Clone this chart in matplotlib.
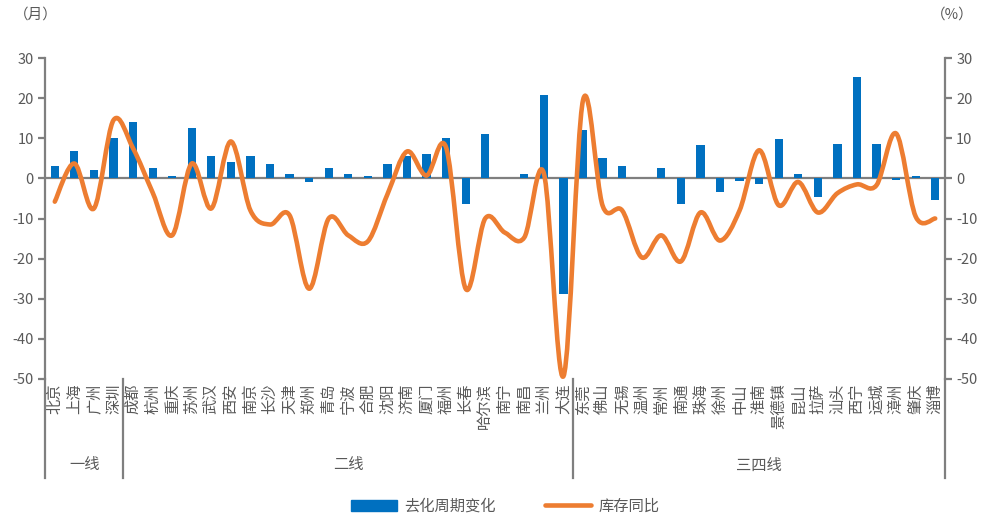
import matplotlib.pyplot as plt
import numpy as np
from matplotlib.path import Path
from matplotlib.patches import PathPatch, Patch
from matplotlib.lines import Line2D

plt.rcParams['font.family'] = ['Noto Sans CJK SC', 'DejaVu Sans']
plt.rcParams['axes.unicode_minus'] = False

# =============================================================================
# data
# =============================================================================
cities = ['北京', '上海', '广州', '深圳',
          '成都', '杭州', '重庆', '苏州', '武汉', '西安', '南京', '长沙', '天津',
          '郑州', '青岛', '宁波', '合肥', '沈阳', '济南', '厦门', '福州', '长春',
          '哈尔滨', '南宁', '南昌', '兰州', '大连',
          '东莞', '佛山', '无锡', '温州', '常州', '南通', '珠海', '徐州', '中山',
          '淮南', '景德镇', '昆山', '拉萨', '汕头', '西宁', '运城', '漳州', '肇庆',
          '淄博']

groups = ['一线', '二线', '三四线']
group_sizes = [4, 23, 19]

# 去化周期变化 (月)
cycle_change = [3.2, 6.7, 2.0, 10.0,
                14.0, 2.5, 0.5, 12.5, 5.7, 4.2, 5.7, 3.7, 1.2,
                -1.0, 2.5, 1.0, 0.7, 3.7, 5.7, 6.0, 10.0, -6.5,
                11.0, 0.0, 1.0, 20.7, -28.8,
                12.0, 5.2, 3.2, 0.0, 2.7, -6.3, 8.2, -3.5, -0.7,
                -1.5, 9.7, 1.2, -4.7, 8.5, 25.2, 8.5, -0.5, 0.5,
                -5.3]

# 库存同比 (%)
stock_yoy = [-5.8, 3.7, -7.5, 14.5,
             7.5, -3.5, -14.2, 3.7, -7.5, 9.2, -8.0, -11.5, -9.2,
             -27.5, -10.0, -14.2, -15.7, -4.0, 6.7, 0.7, 7.7, -27.5,
             -10.0, -13.5, -14.7, 1.2, -49.3,
             19.5, -6.8, -8.0, -19.7, -14.2, -20.7, -8.5, -15.5, -8.0,
             7.0, -6.7, -0.9, -8.5, -3.7, -1.5, -1.7, 11.2, -9.5,
             -10.0]

yticks = [30, 20, 10, 0, -10, -20, -30, -40, -50]

# =============================================================================
# figure
# =============================================================================
blue = '#0070C0'
orange = '#ED7D31'
grey = '#7F7F7F'
txt = '#595959'

W, H = 989, 530
fig = plt.figure(figsize=(W / 100, H / 100), dpi=100)
fig.set_facecolor('w')

x0, x1, ytop, ybot = 45, 945, 58, 379
ax = fig.add_axes([x0 / W, 1 - ybot / H, (x1 - x0) / W, (ybot - ytop) / H])
ax2 = ax.twinx()

n = len(cities)
x = np.arange(n)

ax.bar(x, cycle_change, width=0.42, color=blue, zorder=2)
ax.axhline(0, color=grey, lw=1.6, zorder=1)

# smooth line (Catmull-Rom -> cubic bezier, like office "smoothed line")
pts = np.column_stack([x, stock_yoy]).astype(float)
verts = [tuple(pts[0])]
codes = [Path.MOVETO]
for i in range(n - 1):
    p0 = pts[i - 1] if i > 0 else pts[i]
    p1 = pts[i]
    p2 = pts[i + 1]
    p3 = pts[i + 2] if i + 2 < n else pts[i + 1]
    c1 = p1 + (p2 - p0) / 6
    c2 = p2 - (p3 - p1) / 6
    verts += [tuple(c1), tuple(c2), tuple(p2)]
    codes += [Path.CURVE4] * 3
ax.add_patch(PathPatch(Path(verts, codes), fill=False, edgecolor=orange,
                       lw=3.3, capstyle='round', joinstyle='round', zorder=3))

for a in (ax, ax2):
    a.set_ylim(-50, 30)
    a.set_yticks(yticks)
    for s in a.spines.values():
        s.set_visible(False)
    a.tick_params(axis='y', colors=grey, labelcolor=txt, labelsize=10.5,
                  length=5, width=1.6, pad=3)
ax.set_xlim(-0.5, n - 0.5)

ax.spines['left'].set_visible(True)
ax.spines['left'].set_color(grey)
ax.spines['left'].set_linewidth(1.6)
ax2.spines['right'].set_visible(True)
ax2.spines['right'].set_color(grey)
ax2.spines['right'].set_linewidth(1.6)

ax.set_xticks(x)
ax.set_xticklabels(cities, rotation=90, fontsize=11, color=txt)
ax.tick_params(axis='x', length=0, pad=3)

# group separators and group labels below the category axis
bounds = np.concatenate([[0], np.cumsum(group_sizes)]) - 0.5
sep_bottom = -(478 - ybot) / (ybot - ytop)
for b in bounds:
    ax.plot([b, b], [0, sep_bottom], transform=ax.get_xaxis_transform(),
            color=grey, lw=1.6, clip_on=False)
grp_y = 1 - (465 - ytop) / (ybot - ytop)
for g, lo, hi in zip(groups, bounds[:-1], bounds[1:]):
    ax.text((lo + hi) / 2, grp_y, g, transform=ax.get_xaxis_transform(),
            ha='center', va='center', fontsize=11, color=txt)

fig.text(36 / W, 1 - 15 / H, '（月）', ha='center', va='center', fontsize=10.5, color=txt)
fig.text(952 / W, 1 - 15 / H, '（%）', ha='center', va='center', fontsize=10.5, color=txt)

handles = [Patch(facecolor=blue, edgecolor=blue),
           Line2D([], [], color=orange, lw=3.3, solid_capstyle='round')]
fig.legend(handles, ['去化周期变化', '库存同比'], loc='center',
           bbox_to_anchor=(505 / W, 1 - 506 / H), ncol=2, frameon=False,
           fontsize=11, labelcolor=txt, handlelength=3.0, handleheight=0.7,
           columnspacing=3.2, handletextpad=0.5)

plt.savefig('out.png', dpi=100)
